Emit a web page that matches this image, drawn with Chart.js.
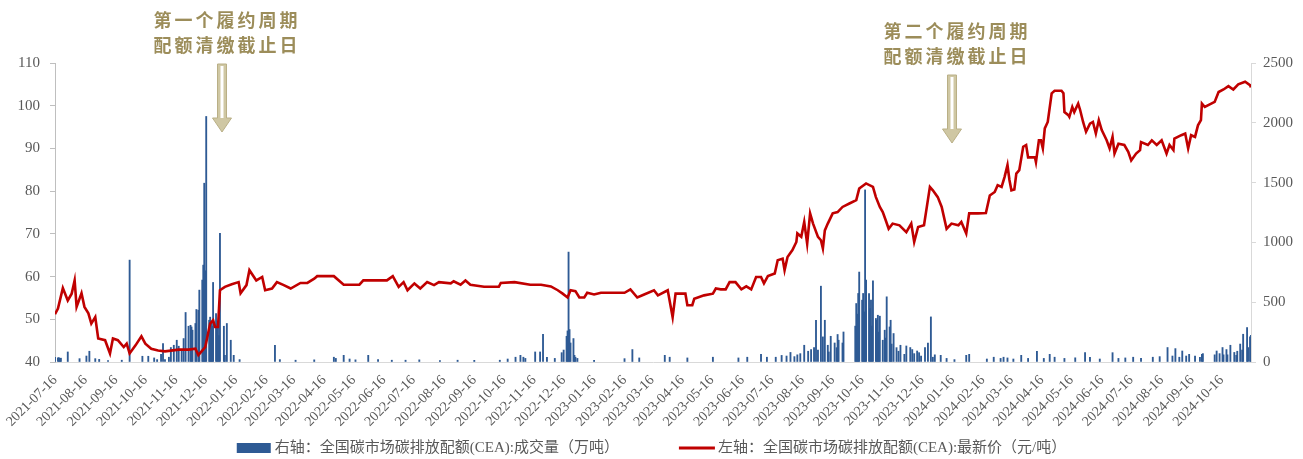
<!DOCTYPE html>
<html>
<head>
<meta charset="utf-8">
<script src="https://cdn.jsdelivr.net/npm/chart.js@4.4.1/dist/chart.umd.min.js"></script>
<style>
  html, body { margin: 0; padding: 0; background: #fff; }
</style>
</head>
<body>
<canvas id="cea" width="1303" height="459"></canvas>
<script>
// 全国碳市场 CEA：成交量（右轴，柱）与最新价（左轴，线）
const startDate = '2021-07-16';
const endDate = '2024-11-15';

const xTickLabels = [
  '2021-07-16', '2021-08-16', '2021-09-16', '2021-10-16', '2021-11-16', '2021-12-16',
  '2022-01-16', '2022-02-16', '2022-03-16', '2022-04-16', '2022-05-16', '2022-06-16',
  '2022-07-16', '2022-08-16', '2022-09-16', '2022-10-16', '2022-11-16', '2022-12-16',
  '2023-01-16', '2023-02-16', '2023-03-16', '2023-04-16', '2023-05-16', '2023-06-16',
  '2023-07-16', '2023-08-16', '2023-09-16', '2023-10-16', '2023-11-16', '2023-12-16',
  '2024-01-16', '2024-02-16', '2024-03-16', '2024-04-16', '2024-05-16', '2024-06-16',
  '2024-07-16', '2024-08-16', '2024-09-16', '2024-10-16'
];

const priceDates = [
  '2021-07-16', '2021-07-19', '2021-07-24', '2021-07-29', '2021-08-02', '2021-08-05', '2021-08-07', '2021-08-12',
  '2021-08-15', '2021-08-19', '2021-08-22', '2021-08-26', '2021-08-29', '2021-09-05', '2021-09-10', '2021-09-13',
  '2021-09-18', '2021-09-24', '2021-09-27', '2021-09-30', '2021-10-06', '2021-10-12', '2021-10-16', '2021-10-22',
  '2021-10-29', '2021-11-05', '2021-11-19', '2021-11-29', '2021-12-06', '2021-12-09', '2021-12-16', '2021-12-21',
  '2021-12-24', '2021-12-26', '2021-12-29', '2021-12-31', '2022-01-05', '2022-01-12', '2022-01-19', '2022-01-21',
  '2022-01-27', '2022-01-30', '2022-02-06', '2022-02-12', '2022-02-15', '2022-02-22', '2022-02-27', '2022-03-06',
  '2022-03-13', '2022-03-23', '2022-03-30', '2022-04-06', '2022-04-09', '2022-04-26', '2022-05-06', '2022-05-22',
  '2022-05-26', '2022-06-19', '2022-06-25', '2022-07-01', '2022-07-06', '2022-07-10', '2022-07-17', '2022-07-23',
  '2022-07-30', '2022-08-06', '2022-08-11', '2022-08-23', '2022-08-26', '2022-09-02', '2022-09-07', '2022-09-12',
  '2022-09-26', '2022-10-11', '2022-10-13', '2022-10-27', '2022-11-12', '2022-11-23', '2022-12-03', '2022-12-10',
  '2022-12-15', '2022-12-20', '2022-12-23', '2022-12-28', '2023-01-01', '2023-01-06', '2023-01-09', '2023-01-16',
  '2023-01-23', '2023-02-16', '2023-02-22', '2023-03-01', '2023-03-08', '2023-03-18', '2023-03-22', '2023-04-01',
  '2023-04-06', '2023-04-09', '2023-04-19', '2023-04-21', '2023-04-26', '2023-04-28', '2023-05-08', '2023-05-17',
  '2023-05-20', '2023-05-25', '2023-05-30', '2023-06-03', '2023-06-09', '2023-06-15', '2023-06-20', '2023-06-25',
  '2023-06-30', '2023-07-05', '2023-07-08', '2023-07-12', '2023-07-19', '2023-07-22', '2023-07-27', '2023-07-29',
  '2023-08-01', '2023-08-06', '2023-08-10', '2023-08-11', '2023-08-15', '2023-08-18', '2023-08-21', '2023-08-24',
  '2023-08-27', '2023-09-01', '2023-09-04', '2023-09-06', '2023-09-08', '2023-09-11', '2023-09-16', '2023-09-21',
  '2023-09-26', '2023-10-03', '2023-10-10', '2023-10-13', '2023-10-20', '2023-10-27', '2023-10-30', '2023-11-03',
  '2023-11-06', '2023-11-09', '2023-11-12', '2023-11-16', '2023-11-23', '2023-11-30', '2023-12-05', '2023-12-08',
  '2023-12-12', '2023-12-18', '2023-12-24', '2023-12-27', '2024-01-01', '2024-01-05', '2024-01-10', '2024-01-15',
  '2024-01-22', '2024-01-25', '2024-01-30', '2024-02-02', '2024-02-11', '2024-02-19', '2024-02-23', '2024-02-28',
  '2024-03-02', '2024-03-06', '2024-03-09', '2024-03-12', '2024-03-14', '2024-03-16', '2024-03-19', '2024-03-21',
  '2024-03-24', '2024-03-28', '2024-03-31', '2024-04-02', '2024-04-09', '2024-04-10', '2024-04-13', '2024-04-15',
  '2024-04-17', '2024-04-19', '2024-04-22', '2024-04-26', '2024-04-29', '2024-05-06', '2024-05-08', '2024-05-09',
  '2024-05-13', '2024-05-14', '2024-05-17', '2024-05-19', '2024-05-23', '2024-05-25', '2024-05-28', '2024-05-31',
  '2024-06-04', '2024-06-07', '2024-06-10', '2024-06-13', '2024-06-16', '2024-06-21', '2024-06-24', '2024-06-27',
  '2024-06-29', '2024-07-03', '2024-07-09', '2024-07-13', '2024-07-16', '2024-07-21', '2024-07-25', '2024-07-26',
  '2024-08-02', '2024-08-06', '2024-08-11', '2024-08-16', '2024-08-21', '2024-08-24', '2024-08-28', '2024-08-29',
  '2024-09-05', '2024-09-09', '2024-09-12', '2024-09-15', '2024-09-19', '2024-09-22', '2024-09-25', '2024-09-26',
  '2024-09-29', '2024-10-09', '2024-10-13', '2024-10-18', '2024-10-23', '2024-10-28', '2024-11-02', '2024-11-09',
  '2024-11-14', '2024-11-15'
];
const priceValues = [
  51.2, 52.5, 57.3, 54.4, 56.0, 59.1, 52.9, 56.1,
  52.9, 51.4, 49.0, 50.5, 45.5, 45.1, 42.0, 45.5,
  45.1, 43.5, 44.3, 42.0, 43.9, 46.0, 44.3, 43.1,
  42.7, 42.5, 42.9, 42.9, 43.1, 41.6, 43.5, 49.0,
  49.8, 48.2, 48.2, 56.8, 57.6, 58.2, 58.7, 56.1,
  58.0, 61.5, 59.1, 59.9, 56.8, 57.2, 58.7, 58.0,
  57.2, 58.5, 58.5, 59.5, 60.1, 60.1, 58.1, 58.1,
  59.1, 59.1, 60.1, 57.6, 58.7, 56.8, 58.4, 57.2,
  58.7, 58.0, 58.7, 58.4, 58.9, 58.1, 59.1, 58.1,
  57.6, 57.6, 58.5, 58.7, 58.1, 58.1, 57.7, 56.8,
  56.0, 55.1, 56.8, 56.6, 55.1, 55.1, 56.2, 55.8,
  56.2, 56.2, 57.0, 55.1, 55.8, 56.8, 55.6, 56.8,
  50.5, 56.0, 56.0, 53.3, 53.3, 54.8, 55.6, 56.0,
  57.2, 57.0, 57.0, 58.7, 58.7, 57.0, 57.7, 57.0,
  59.9, 59.9, 58.4, 60.1, 60.7, 63.8, 64.2, 61.5,
  64.6, 66.2, 68.1, 70.1, 69.3, 72.8, 67.7, 74.8,
  72.4, 69.3, 68.5, 66.6, 70.8, 72.4, 74.8, 75.1,
  76.3, 77.1, 77.9, 80.6, 81.8, 81.0, 78.6, 76.3,
  75.1, 73.2, 71.2, 72.4, 72.0, 70.4, 72.4, 68.1,
  71.6, 72.0, 81.0, 80.2, 78.6, 76.3, 71.2, 72.4,
  72.0, 72.8, 70.1, 74.8, 74.8, 74.9, 79.0, 79.8,
  81.4, 81.0, 83.3, 86.1, 82.6, 80.2, 80.4, 84.1,
  84.9, 90.4, 90.8, 87.9, 87.9, 86.8, 91.9, 91.9,
  90.0, 94.7, 96.2, 102.9, 103.5, 103.5, 102.9, 98.5,
  97.8, 97.4, 99.7, 98.5, 100.5, 99.0, 96.2, 93.9,
  95.8, 96.2, 93.5, 96.6, 94.3, 91.9, 90.0, 92.7,
  88.8, 91.1, 90.8, 89.2, 87.2, 88.8, 89.6, 91.5,
  90.8, 91.9, 90.8, 91.9, 88.8, 90.8, 89.6, 92.3,
  93.1, 93.5, 90.0, 93.1, 92.7, 95.4, 96.6, 100.5,
  99.7, 100.9, 103.2, 103.8, 104.6, 103.8, 105.0, 105.6,
  104.8, 104.3
];

const volDates = [
  '2021-07-16', '2021-07-19', '2021-07-20', '2021-07-21', '2021-07-22', '2021-07-29', '2021-08-10', '2021-08-17',
  '2021-08-20', '2021-08-26', '2021-08-30', '2021-09-08', '2021-09-22', '2021-09-30', '2021-10-13', '2021-10-19',
  '2021-10-25', '2021-10-28', '2021-11-01', '2021-11-03', '2021-11-05', '2021-11-09', '2021-11-11', '2021-11-14',
  '2021-11-17', '2021-11-19', '2021-11-22', '2021-11-24', '2021-11-26', '2021-11-29', '2021-12-01', '2021-12-02',
  '2021-12-03', '2021-12-06', '2021-12-07', '2021-12-09', '2021-12-10', '2021-12-13', '2021-12-14', '2021-12-15',
  '2021-12-16', '2021-12-17', '2021-12-20', '2021-12-21', '2021-12-22', '2021-12-23', '2021-12-24', '2021-12-27',
  '2021-12-28', '2021-12-29', '2021-12-30', '2021-12-31', '2022-01-04', '2022-01-05', '2022-01-07', '2022-01-11',
  '2022-01-14', '2022-01-20', '2022-02-25', '2022-03-02', '2022-03-18', '2022-04-06', '2022-04-26', '2022-04-28',
  '2022-05-06', '2022-05-12', '2022-05-18', '2022-05-31', '2022-06-10', '2022-06-24', '2022-07-08', '2022-07-22',
  '2022-08-12', '2022-08-30', '2022-09-16', '2022-10-12', '2022-10-20', '2022-10-28', '2022-11-02', '2022-11-05',
  '2022-11-07', '2022-11-17', '2022-11-22', '2022-11-25', '2022-11-29', '2022-12-07', '2022-12-14', '2022-12-16',
  '2022-12-19', '2022-12-20', '2022-12-21', '2022-12-22', '2022-12-23', '2022-12-26', '2022-12-27', '2022-12-28',
  '2022-12-30', '2023-01-16', '2023-02-16', '2023-02-24', '2023-03-03', '2023-03-29', '2023-04-03', '2023-04-21',
  '2023-05-17', '2023-06-12', '2023-06-21', '2023-07-05', '2023-07-11', '2023-07-20', '2023-07-26', '2023-07-31',
  '2023-08-04', '2023-08-08', '2023-08-11', '2023-08-14', '2023-08-18', '2023-08-22', '2023-08-25', '2023-08-28',
  '2023-08-30', '2023-09-01', '2023-09-04', '2023-09-06', '2023-09-08', '2023-09-11', '2023-09-12', '2023-09-14',
  '2023-09-18', '2023-09-20', '2023-09-21', '2023-09-22', '2023-09-26', '2023-09-27', '2023-10-09', '2023-10-10',
  '2023-10-11', '2023-10-12', '2023-10-13', '2023-10-16', '2023-10-17', '2023-10-18', '2023-10-19', '2023-10-20',
  '2023-10-23', '2023-10-24', '2023-10-25', '2023-10-26', '2023-10-27', '2023-10-30', '2023-10-31', '2023-11-01',
  '2023-11-02', '2023-11-03', '2023-11-06', '2023-11-08', '2023-11-09', '2023-11-10', '2023-11-13', '2023-11-14',
  '2023-11-15', '2023-11-17', '2023-11-20', '2023-11-22', '2023-11-24', '2023-11-28', '2023-11-30', '2023-12-04',
  '2023-12-06', '2023-12-08', '2023-12-11', '2023-12-13', '2023-12-15', '2023-12-19', '2023-12-22', '2023-12-25',
  '2023-12-27', '2023-12-29', '2024-01-04', '2024-01-10', '2024-01-18', '2024-01-30', '2024-02-02', '2024-02-20',
  '2024-02-27', '2024-03-05', '2024-03-08', '2024-03-12', '2024-03-18', '2024-03-26', '2024-04-02', '2024-04-11',
  '2024-04-18', '2024-04-24', '2024-04-29', '2024-05-09', '2024-05-20', '2024-05-30', '2024-06-04', '2024-06-14',
  '2024-06-27', '2024-07-03', '2024-07-10', '2024-07-18', '2024-07-26', '2024-08-07', '2024-08-14', '2024-08-22',
  '2024-08-27', '2024-08-30', '2024-09-03', '2024-09-06', '2024-09-10', '2024-09-13', '2024-09-19', '2024-09-24',
  '2024-09-26', '2024-09-27', '2024-10-09', '2024-10-11', '2024-10-14', '2024-10-17', '2024-10-18', '2024-10-21',
  '2024-10-22', '2024-10-25', '2024-10-29', '2024-10-31', '2024-11-01', '2024-11-04', '2024-11-06', '2024-11-07',
  '2024-11-11', '2024-11-12', '2024-11-14', '2024-11-15'
];
const volValues = [
  40, 34, 36, 30, 32, 84, 28, 50,
  90, 28, 22, 12, 15, 852, 48, 48,
  34, 20, 64, 154, 20, 40, 121, 140,
  182, 132, 90, 196, 414, 299, 307, 293,
  266, 322, 439, 433, 601, 685, 810, 1495,
  763, 2053, 349, 375, 340, 300, 665, 405,
  322, 299, 220, 1076, 299, 56, 322, 182,
  56, 20, 140, 20, 15, 18, 40, 30,
  56, 25, 18, 56, 20, 15, 15, 18,
  12, 15, 14, 15, 25, 40, 56, 40,
  30, 84, 84, 232, 40, 30, 78, 100,
  215, 260, 919, 271, 159, 196, 56, 40,
  30, 14, 28, 104, 34, 56, 40, 34,
  40, 34, 40, 64, 40, 40, 55, 50,
  80, 45, 60, 70, 140, 90, 104, 120,
  349, 100, 634, 210, 349, 140, 84, 215,
  159, 120, 230, 182, 159, 251, 300, 489,
  400, 573, 752, 517, 573, 419, 1439, 685,
  573, 447, 517, 300, 679, 364, 349, 391,
  250, 383, 182, 266, 200, 545, 293, 349,
  150, 238, 120, 90, 140, 64, 134, 121,
  104, 70, 92, 78, 50, 121, 159, 377,
  40, 60, 56, 30, 20, 56, 64, 25,
  40, 30, 40, 34, 25, 56, 30, 90,
  30, 64, 40, 30, 35, 78, 40, 25,
  78, 30, 34, 40, 30, 40, 45, 121,
  50, 112, 40, 92, 50, 64, 50, 40,
  64, 70, 60, 92, 70, 121, 60, 104,
  60, 140, 80, 56, 90, 150, 100, 232,
  288, 120, 210, 224
];

const leftMin = 40, leftMax = 110, leftStep = 10;
const rightMin = 0, rightMax = 2500, rightStep = 500;

const noteDates = ['2022-01-02', '2024-01-15'];
const noteTexts = [
  ['第一个履约周期', '配额清缴截止日'],
  ['第二个履约周期', '配额清缴截止日']
];

const DAY = 86400000;
const toDay = s => Math.round((Date.parse(s) - Date.parse(startDate)) / DAY);

const priceData = priceDates.map((d, i) => ({ x: toDay(d), y: priceValues[i] }));
const volData = volDates.map((d, i) => ({ x: toDay(d), y: volValues[i] }));

const tickColor = '#595959';
const serif = '"Liberation Serif", "Times New Roman", serif';

// 履约周期标注：文字 + 空心箭头
const noteTop = [20, 31];
const cycleNotes = {
  id: 'cycleNotes',
  afterDraw(chart) {
    const ctx = chart.ctx;
    const xs = chart.scales.x;
    noteDates.forEach((d, i) => {
      const x = Math.round(xs.getPixelForValue(toDay(d)));
      const y0 = noteTop[i];
      ctx.save();
      ctx.fillStyle = '#9C8D5A';
      ctx.font = 'bold 18px "Noto Sans CJK SC"';
      ctx.letterSpacing = '3px';
      ctx.textAlign = 'center';
      ctx.textBaseline = 'middle';
      ctx.fillText(noteTexts[i][0], x + 5, y0);
      ctx.fillText(noteTexts[i][1], x + 5, y0 + 25);
      ctx.restore();

      const top = y0 + 44, headTop = y0 + 98, bottom = y0 + 112;
      ctx.save();
      ctx.beginPath();
      ctx.moveTo(x - 4.5, top);
      ctx.lineTo(x + 4.5, top);
      ctx.lineTo(x + 4.5, headTop);
      ctx.lineTo(x + 9.5, headTop);
      ctx.lineTo(x, bottom);
      ctx.lineTo(x - 9.5, headTop);
      ctx.lineTo(x - 4.5, headTop);
      ctx.closePath();
      ctx.fillStyle = '#CFC7A3';
      ctx.fill();
      ctx.strokeStyle = '#B9AF86';
      ctx.lineWidth = 1;
      ctx.stroke();
      ctx.fillStyle = '#ffffff';
      ctx.fillRect(x - 1.5, top + 2, 3, headTop - top - 2);
      ctx.restore();
    });
  }
};

// 底部图例
const bottomLegend = {
  id: 'bottomLegend',
  afterDraw(chart) {
    const ctx = chart.ctx;
    const [bars, line] = chart.data.datasets;
    const y = 448;
    ctx.save();
    ctx.font = '15px ' + serif + ', "Noto Sans CJK SC"';
    ctx.textBaseline = 'middle';
    const w1 = ctx.measureText(bars.label).width;
    const w2 = ctx.measureText(line.label).width;
    const boxW = 34, lineW = 36, gap = 60;
    const total = boxW + 4 + w1 + gap + lineW + 3 + w2;
    let x = (chart.width - total) / 2;
    ctx.fillStyle = bars.backgroundColor;
    ctx.fillRect(x, y - 5, boxW, 10);
    x += boxW + 4;
    ctx.fillStyle = tickColor;
    ctx.fillText(bars.label, x, y);
    x += w1 + gap;
    ctx.strokeStyle = line.borderColor;
    ctx.lineWidth = 3;
    ctx.beginPath();
    ctx.moveTo(x, y);
    ctx.lineTo(x + lineW, y);
    ctx.stroke();
    x += lineW + 3;
    ctx.fillText(line.label, x, y);
    ctx.restore();
  }
};

new Chart(document.getElementById('cea'), {
  data: {
    datasets: [
      {
        type: 'bar',
        label: '右轴：全国碳市场碳排放配额(CEA):成交量（万吨）',
        data: volData,
        yAxisID: 'y1',
        backgroundColor: '#2E5A94',
        barThickness: 1.2,
        order: 2
      },
      {
        type: 'line',
        label: '左轴：全国碳市场碳排放配额(CEA):最新价（元/吨）',
        data: priceData,
        yAxisID: 'y',
        borderColor: '#C00000',
        borderWidth: 2.6,
        pointRadius: 0,
        tension: 0,
        order: 1
      }
    ]
  },
  options: {
    responsive: false,
    animation: false,
    devicePixelRatio: 1,
    layout: { padding: { top: 63, left: 0, right: 0, bottom: 0 } },
    plugins: {
      legend: { display: false },
      tooltip: { enabled: false }
    },
    scales: {
      x: {
        type: 'linear',
        min: 0,
        max: toDay(endDate),
        offset: false,
        grid: { display: false },
        border: { display: true, color: '#D9D9D9', width: 1 },
        afterBuildTicks: s => { s.ticks = xTickLabels.map(l => ({ value: toDay(l) })); },
        afterFit: s => { s.height = 97; },
        ticks: {
          autoSkip: false,
          maxRotation: 45,
          minRotation: 45,
          padding: 2,
          color: tickColor,
          font: { family: serif, size: 14 },
          callback: (v, i) => xTickLabels[i]
        }
      },
      y: {
        position: 'left',
        min: leftMin,
        max: leftMax,
        grid: { drawOnChartArea: false, color: '#BFBFBF', tickLength: 5 },
        border: { display: true, color: '#BFBFBF', width: 1 },
        afterFit: s => { s.width = 55; },
        ticks: { stepSize: leftStep, padding: 10, color: tickColor, font: { family: serif, size: 15 } }
      },
      y1: {
        position: 'right',
        min: rightMin,
        max: rightMax,
        grid: { drawOnChartArea: false, color: '#D9D9D9', tickLength: 5 },
        border: { display: true, color: '#D9D9D9', width: 1 },
        afterFit: s => { s.width = 52; },
        ticks: {
          stepSize: rightStep,
          padding: 7,
          color: tickColor,
          font: { family: serif, size: 15 },
          callback: v => String(v)
        }
      }
    }
  },
  plugins: [cycleNotes, bottomLegend]
});
</script>
</body>
</html>
